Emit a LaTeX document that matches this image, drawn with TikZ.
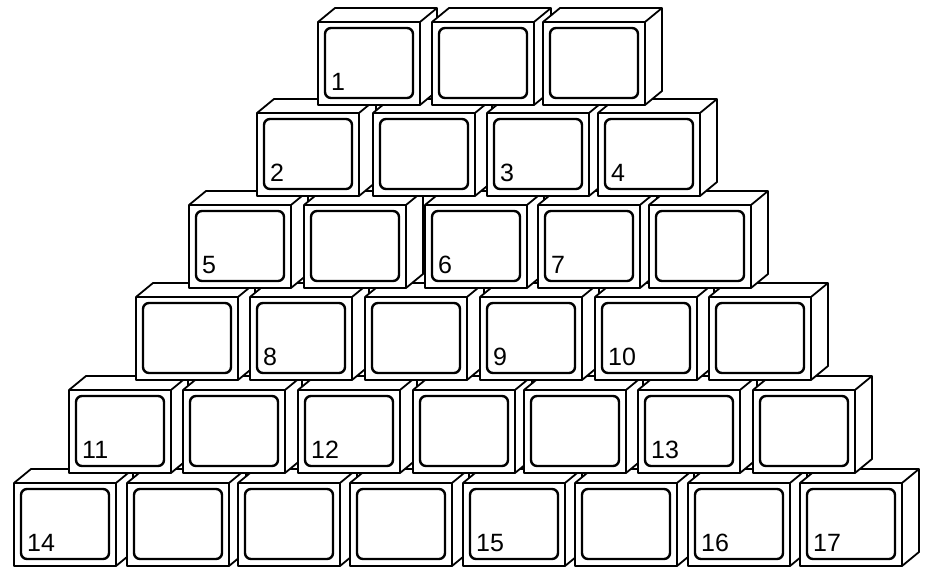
\documentclass[tikz,border=0pt]{standalone}
\usepackage{fontspec}
\setmainfont{Liberation Sans}
\usepackage{tikz}
\usetikzlibrary{calc}
\tikzset{
  boxline/.style={draw=black, fill=white, line width=1.8pt, line join=round},
  boxedge/.style={draw=black, line width=1.8pt, line join=round},
  screen/.style={draw=black, line width=2.4pt, rounded corners=6pt},
  tvnum/.style={anchor=base west, inner sep=0pt, font=\fontsize{25}{25}\selectfont},
  pics/tvset/.style={code={
    \draw[boxline] (0,0) -- (17,-14) -- (119,-14) -- (119,69) -- (102,83) -- (0,83) -- cycle;
    \draw[boxedge] (0,0) -- (102,0) -- (119,-14) (102,0) -- (102,83);
    \draw[screen] (7,6) rectangle (95,76);
    \coordinate (-fl) at (0,0);
  }}
}

\begin{document}
\begin{tikzpicture}[x=1pt, y=-1pt]
  \useasboundingbox (0,0) rectangle (935,573);

  % Bottom row first, upper rows lie on top
  \foreach \x [count=\i] in {14,127,238,350,463,575,688,800}
    \pic (r6c\i) at (\x,483) {tvset};
  \foreach \x [count=\i] in {69,183,298,413,524,638,753}
    \pic (r5c\i) at (\x,390) {tvset};
  \foreach \x [count=\i] in {136,250,365,480,595,709}
    \pic (r4c\i) at (\x,297) {tvset};
  \foreach \x [count=\i] in {189,304,425,538,649}
    \pic (r3c\i) at (\x,205) {tvset};
  \foreach \x [count=\i] in {257,373,487,598}
    \pic (r2c\i) at (\x,113) {tvset};
  \foreach \x [count=\i] in {318,432,543}
    \pic (r1c\i) at (\x,22) {tvset};

  % Numbers on the screens
  \foreach \row/\col/\n in {1/1/1, 2/1/2, 2/3/3, 2/4/4, 3/1/5, 3/3/6, 3/4/7,
      4/2/8, 4/4/9, 4/5/10, 5/1/11, 5/3/12, 5/6/13, 6/1/14, 6/5/15, 6/7/16, 6/8/17}
    \node[tvnum] (num\n) at ([shift={(13,68)}]r\row c\col-fl) {\n};
\end{tikzpicture}
\end{document}
